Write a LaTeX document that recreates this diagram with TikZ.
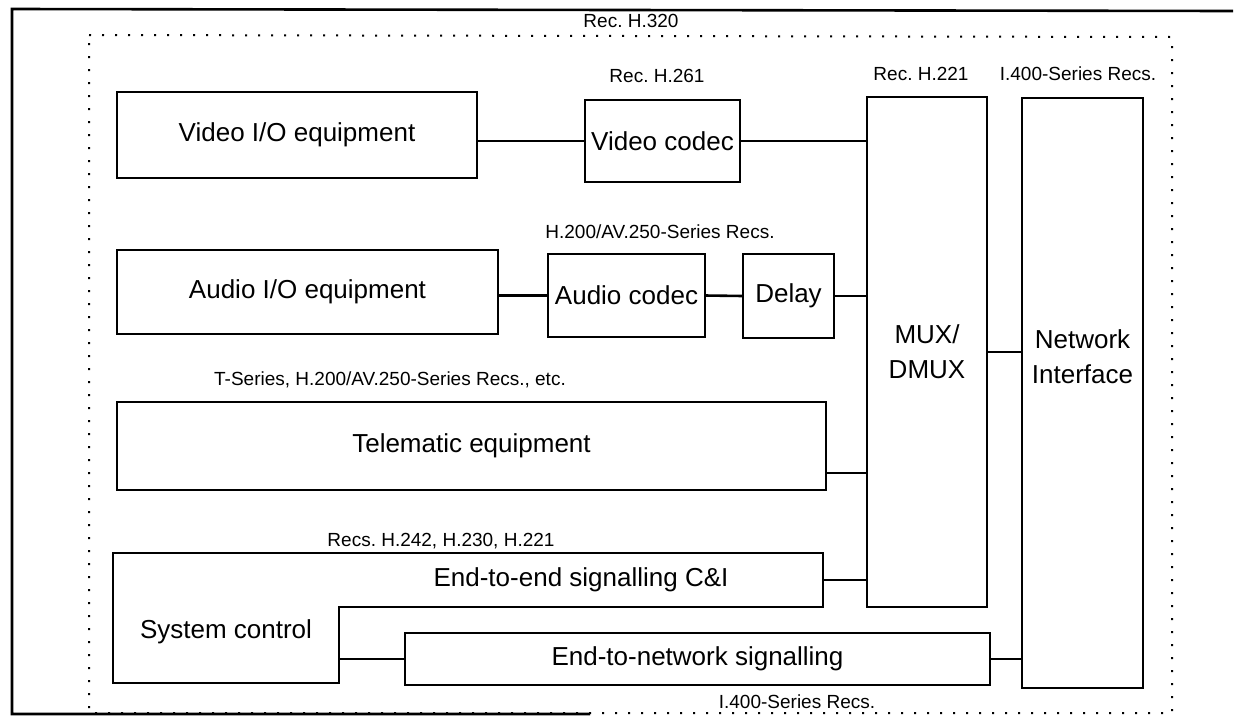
\documentclass[tikz,border=0pt]{standalone}
\usepackage{fontspec}
\setmainfont{Liberation Sans}
\frenchspacing
\begin{document}
\begin{tikzpicture}[x=1pt,y=-1pt,
  box/.style={draw, line width=2.8pt, inner sep=0pt, outer sep=0pt, font=\fontsize{26}{35}\selectfont, align=center},
  ghost/.style={inner sep=0pt, outer sep=0pt, font=\fontsize{26}{35}\selectfont, align=center},
  lbl/.style={inner sep=0pt, font=\fontsize{19}{22}\selectfont},
  conn/.style={line width=2.6pt},
  frame/.style={line width=2.6pt},
  dotframe/.style={line width=2pt, dash pattern=on 2pt off 11pt}]
\useasboundingbox (0,0) rectangle (1245,721);
% outer solid frame (open on right)
\draw[frame] (1233,11) -- (12,9) -- (12,714) -- (590,714);
% inner dotted frame
\draw[dotframe] (89,35) -- (1172,37) -- (1172,713) -- (89,713) -- cycle;
\node[lbl] (h320) at (631,21) {Rec. H.320};
% boxes
\node[box, minimum width=360pt, minimum height=86pt] (vio) at (297,135) {Video I/O equipment};
\node[box, minimum width=155pt, minimum height=82pt] (vcod) at (662.5,141) {Video codec};
\node[box, minimum width=120pt, minimum height=510pt] (mux) at (927,352) {MUX/\\DMUX};
\node[box, minimum width=121pt, minimum height=590pt] (ni) at (1082.5,393) {};
\node[ghost] (nitxt) at (1082.5,357) {Network\\Interface};
\node[box, minimum width=381pt, minimum height=84pt] (aio) at (307.5,292) {Audio I/O equipment};
\node[box, minimum width=157pt, minimum height=83pt] (acod) at (626.5,295.5) {Audio codec};
\node[box, minimum width=91pt, minimum height=84pt] (delay) at (788.5,296) {Delay};
\node[box, minimum width=709pt, minimum height=88pt] (tele) at (471.5,446) {Telematic equipment};
\node[ghost, minimum width=484pt, minimum height=54pt] (e2e) at (581,580) {End-to-end signalling C\&I};
\node[ghost, minimum width=226pt, minimum height=130pt] (sys) at (226,618) {};
\node[ghost] (systxt) at (226,632) {System control};
\draw[line width=2.2pt] (sys.north west) -- (e2e.north east) -- (e2e.south east) -- (e2e.south west) -- (sys.south east) -- (sys.south west) -- cycle;
\node[box, minimum width=585pt, minimum height=52pt] (e2n) at (697.5,659) {End-to-network signalling};
% labels
\node[lbl] (l261) at (657,76) {Rec. H.261};
\node[lbl] (l221) at (921,74) {Rec. H.221};
\node[lbl] (l400a) at (1078,74) {I.400-Series Recs.};
\node[lbl] (lav) at (660,232) {H.200/AV.250-Series Recs.};
\node[lbl] (lts) at (390,380) {T-Series, H.200/AV.250-Series Recs., etc.};
\node[lbl] (l242) at (441,541) {Recs. H.242, H.230, H.221};
\node[lbl] (l400b) at (797,702) {I.400-Series Recs.};
% connectors
\draw[conn] (vcod.west) -- (vcod.west -| vio.east);
\draw[conn] (vcod.east) -- (vcod.east -| mux.west);
\draw[conn] (acod.west) -- (acod.west -| aio.east);
\draw[conn] (acod.east) -- (delay.west);
\draw[conn] (delay.east) -- (delay.east -| mux.west);
\draw[conn] ([yshift=-27pt]tele.east) coordinate (t1) -- (t1 -| mux.west);
\draw[conn] (e2e.east) -- (e2e.east -| mux.west);
\draw[conn] (e2n.west) -- (e2n.west -| sys.east);
\draw[conn] (e2n.east) -- (e2n.east -| ni.west);
\draw[conn] (mux.east) -- (mux.east -| ni.west);
\end{tikzpicture}
\end{document}
